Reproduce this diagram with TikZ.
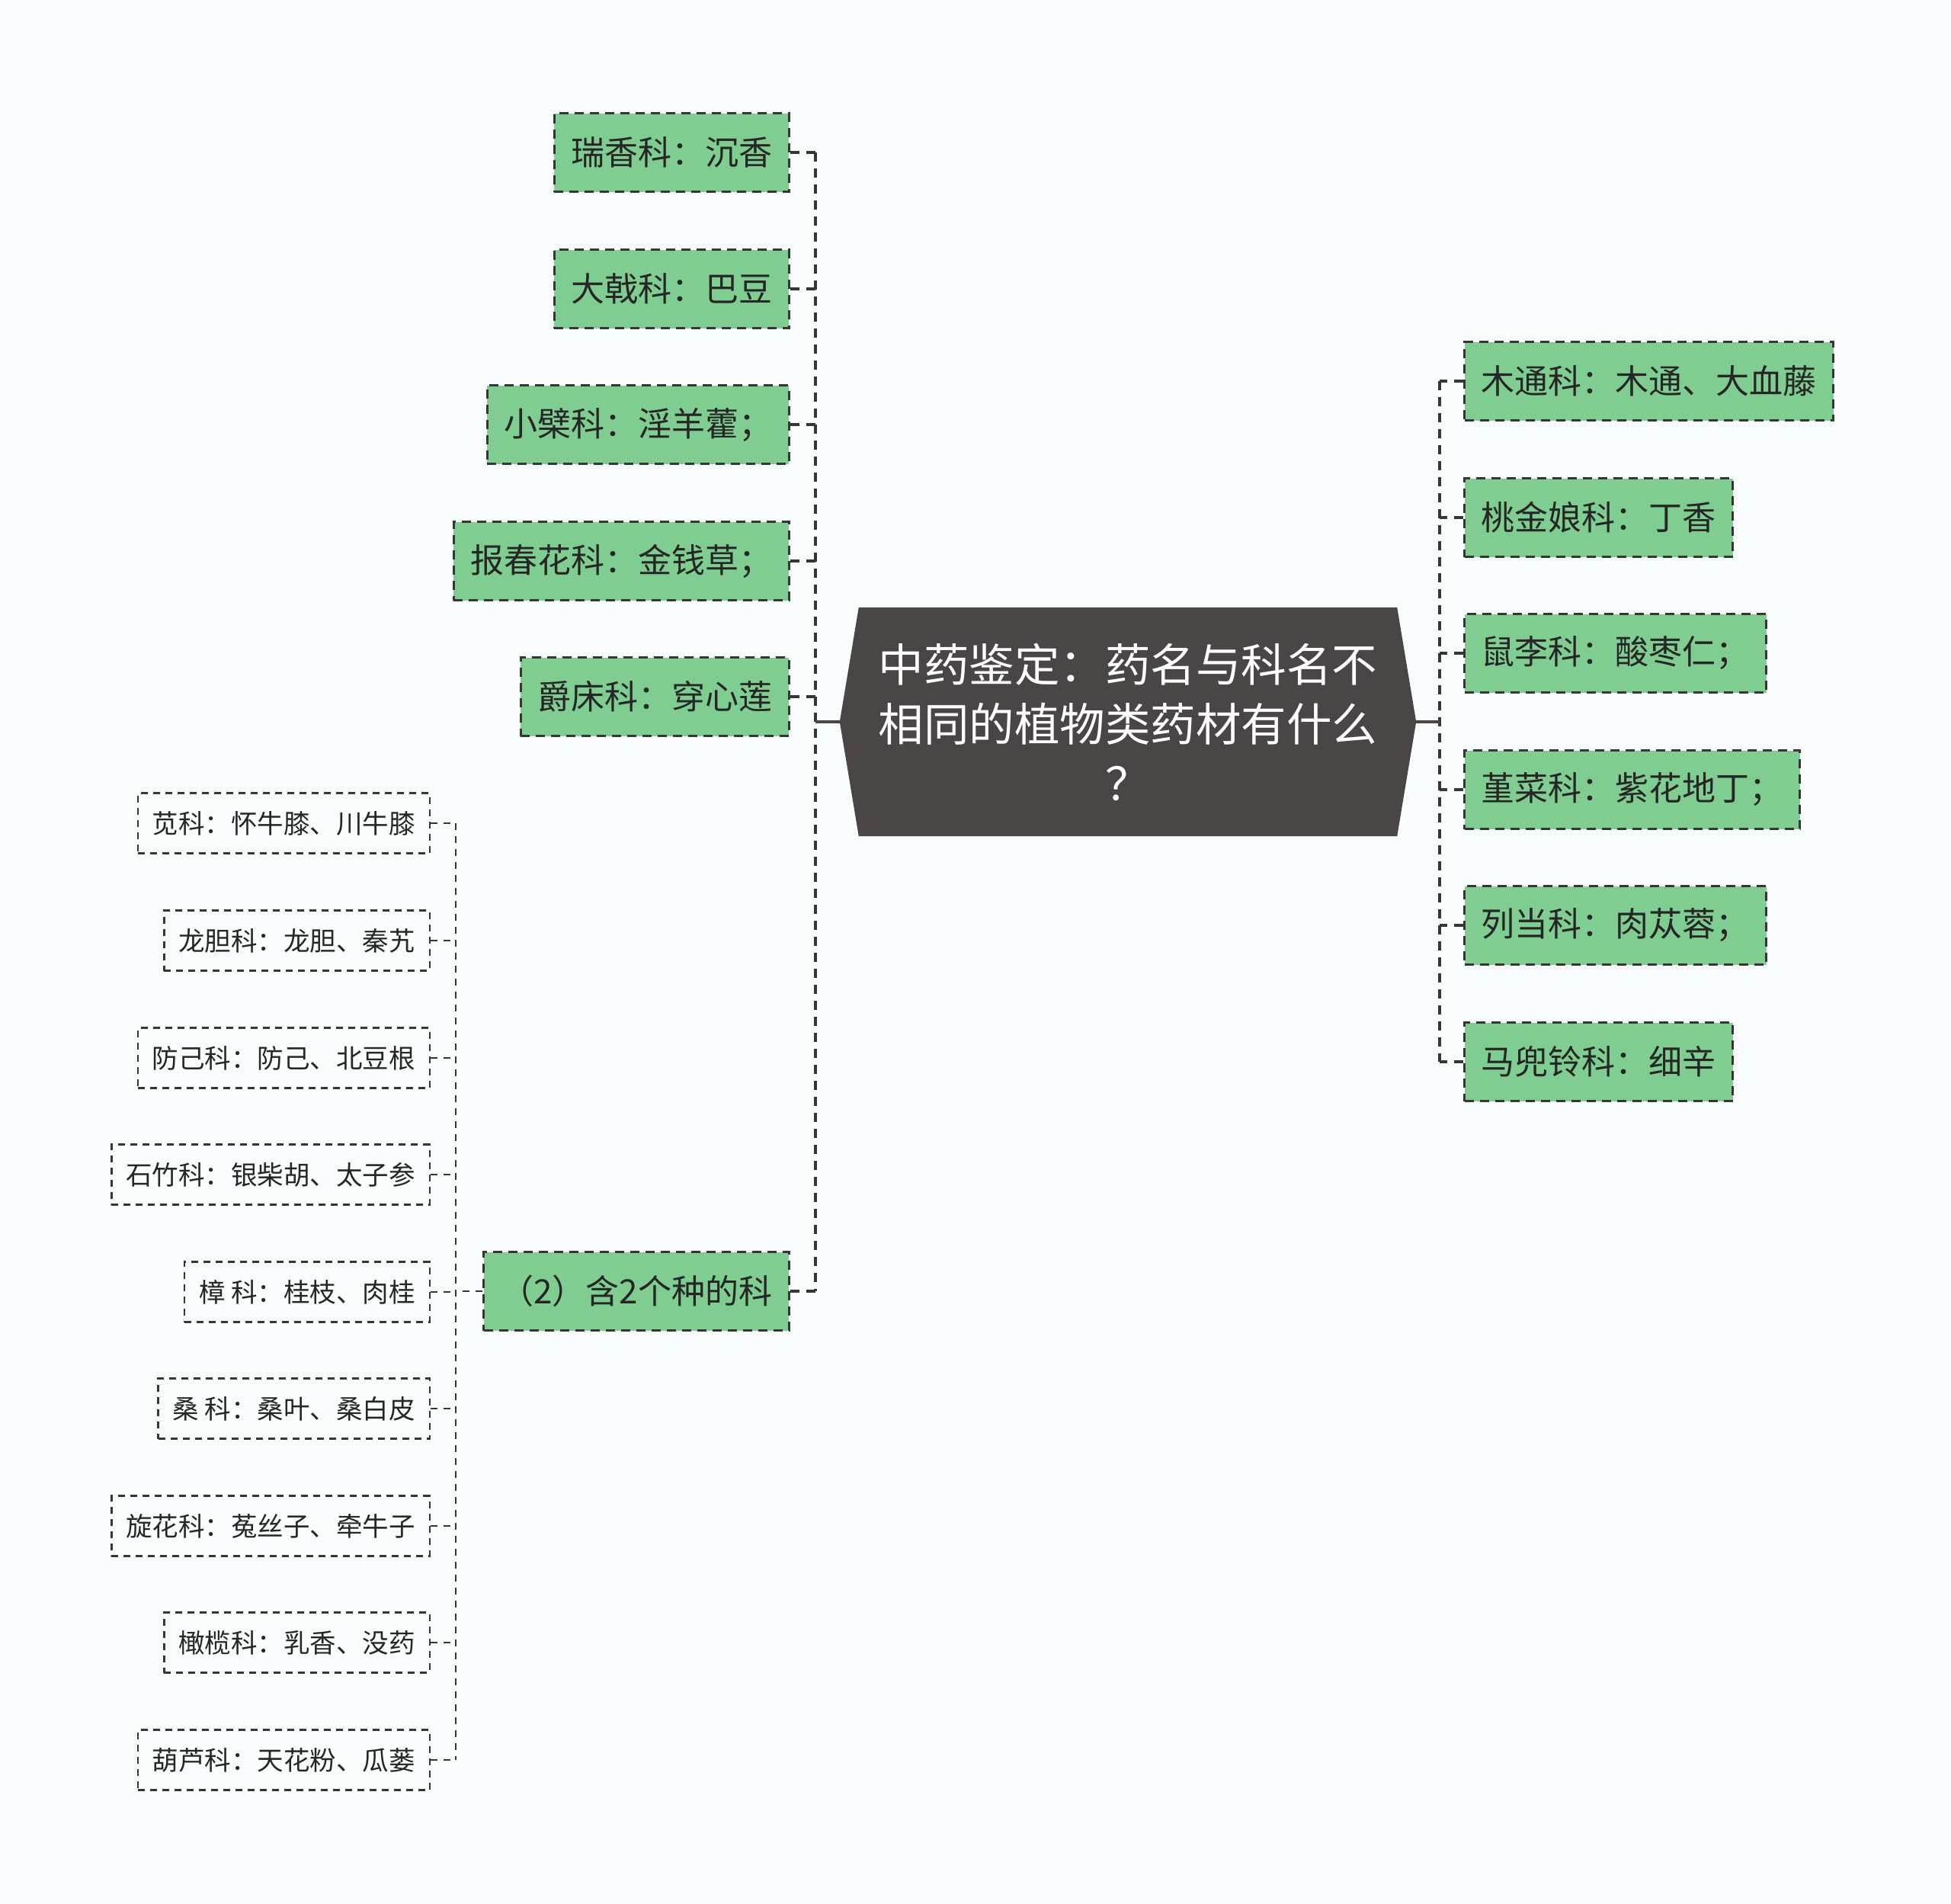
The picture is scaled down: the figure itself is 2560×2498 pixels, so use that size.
\documentclass[tikz,border=0pt]{standalone}
\usepackage{fontspec}
\setmainfont{Noto Sans CJK SC}
\usetikzlibrary{calc}
\definecolor{bgc}{HTML}{F8FCFD}
\definecolor{greenc}{HTML}{7FCD91}
\definecolor{bordc}{HTML}{363636}
\definecolor{darkc}{HTML}{4B4646}
\definecolor{textc}{HTML}{262626}
\begin{document}
\begin{tikzpicture}[x=1pt,y=-1pt,
  lone/.style={draw=bordc, line width=3.3pt, dash pattern=on 12pt off 8pt, fill=greenc, text=textc,
    font=\fontsize{44}{52}\selectfont, minimum height=103pt, inner xsep=22pt, inner ysep=0pt},
  ltwo/.style={draw=bordc, line width=2.5pt, dash pattern=on 9pt off 7pt, text=textc,
    font=\fontsize{34.5}{40}\selectfont, minimum height=79pt, inner xsep=19pt, inner ysep=0pt},
  cone/.style={draw=bordc, line width=4.5pt, dash pattern=on 12pt off 9pt},
  ctwo/.style={draw=bordc, line width=2.5pt, dash pattern=on 9pt off 8pt},
  csolid/.style={draw=darkc, line width=4.5pt},
]
\fill[bgc] (0,0) rectangle (2560,2498);
\useasboundingbox (0,0) rectangle (2560,2498);

% central topic
\node[minimum width=706pt, minimum height=300pt, inner sep=0pt] (root) at (1480,947) {};
\fill[darkc] (root.north west) -- (root.north east) -- ($(root.east)+(25,0)$) -- (root.south east)
  -- (root.south west) -- ($(root.west)+(-25,0)$) -- cycle;
\node[text=white, align=center, font=\fontsize{59.5}{78}\selectfont] (roottext) at (root.center)
  {中药鉴定：药名与科名不\\相同的植物类药材有什么\\？};
\coordinate (rootl) at ($(root.west)+(-25,0)$);
\coordinate (rootr) at ($(root.east)+(25,0)$);

% trunks x positions
\coordinate (lt) at (1070,0);
\coordinate (rt) at (1889,0);
\coordinate (tt) at (598,0);

% left level-1
\node[lone, anchor=east] (a1) at (1037,200) {瑞香科：沉香};
\node[lone, anchor=east] (a2) at (1037,379) {大戟科：巴豆};
\node[lone, anchor=east] (a3) at (1037,557) {小檗科：淫羊藿；};
\node[lone, anchor=east] (a4) at (1037,736) {报春花科：金钱草；};
\node[lone, anchor=east] (a5) at (1037,914) {爵床科：穿心莲};
\node[lone, anchor=east] (a6) at (1037,1694) {（2）含2个种的科};

% right level-1
\node[lone, anchor=west] (r1) at (1920,500) {木通科：木通、大血藤};
\node[lone, anchor=west] (r2) at (1920,679) {桃金娘科：丁香};
\node[lone, anchor=west] (r3) at (1920,857) {鼠李科：酸枣仁；};
\node[lone, anchor=west] (r4) at (1920,1036) {堇菜科：紫花地丁；};
\node[lone, anchor=west] (r5) at (1920,1214) {列当科：肉苁蓉；};
\node[lone, anchor=west] (r6) at (1920,1393) {马兜铃科：细辛};

% level-2
\node[ltwo, anchor=east] (b1) at (565,1080) {苋科：怀牛膝、川牛膝};
\node[ltwo, anchor=east] (b2) at (565,1234) {龙胆科：龙胆、秦艽};
\node[ltwo, anchor=east] (b3) at (565,1388) {防己科：防己、北豆根};
\node[ltwo, anchor=east] (b4) at (565,1541) {石竹科：银柴胡、太子参};
\node[ltwo, anchor=east] (b5) at (565,1695) {樟 科：桂枝、肉桂};
\node[ltwo, anchor=east] (b6) at (565,1848) {桑 科：桑叶、桑白皮};
\node[ltwo, anchor=east] (b7) at (565,2002) {旋花科：菟丝子、牵牛子};
\node[ltwo, anchor=east] (b8) at (565,2155) {橄榄科：乳香、没药};
\node[ltwo, anchor=east] (b9) at (565,2309) {葫芦科：天花粉、瓜蒌};

% left connectors
\draw[cone] (a1.east -| lt) -- (a6.east -| lt);
\foreach \n in {a1,a2,a3,a4,a5,a6} \draw[cone] (\n.east) -- (\n.east -| lt);
\draw[csolid] (rootl) -- (rootl -| lt);

% right connectors
\draw[cone] (r1.west -| rt) -- (r6.west -| rt);
\foreach \n in {r1,r2,r3,r4,r5,r6} \draw[cone] (\n.west) -- (\n.west -| rt);
\draw[csolid] (rootr) -- (rootr -| rt);

% level-2 connectors
\draw[ctwo] (b1.east -| tt) -- (b9.east -| tt);
\foreach \n in {b1,b2,b3,b4,b5,b6,b7,b8,b9} \draw[ctwo] (\n.east) -- (\n.east -| tt);
\draw[ctwo] (a6.west) -- (a6.west -| tt);
\end{tikzpicture}
\end{document}
